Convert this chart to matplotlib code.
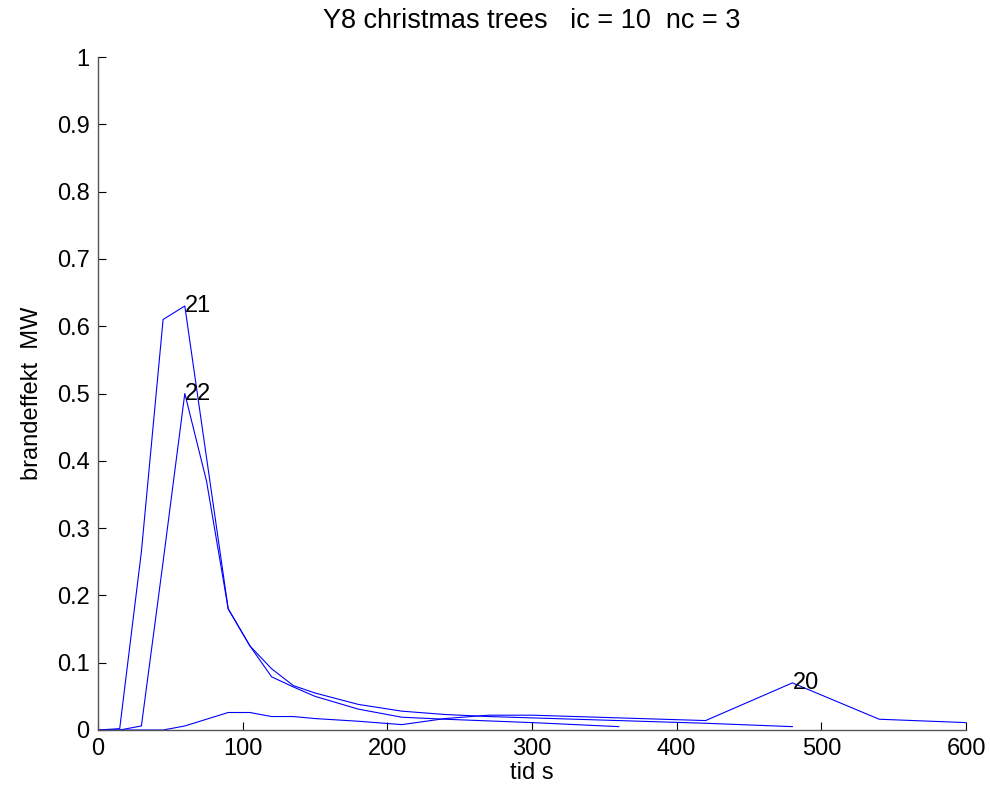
import matplotlib
matplotlib.use("Agg")
import matplotlib.pyplot as plt

# ---- data ----
t20 = [0, 15, 30, 45, 60, 75, 90, 105, 120, 135, 150, 180, 210, 240, 270, 300, 360, 420, 480, 540, 600]
y20 = [0, 0, 0, 0, 0.006, 0.016, 0.026, 0.026, 0.020, 0.020, 0.017, 0.013, 0.008, 0.017, 0.022, 0.022, 0.018, 0.014, 0.070, 0.016, 0.011]

t21 = [0, 15, 30, 45, 60, 75, 90, 105, 120, 135, 150, 180, 210, 240, 270, 300, 360, 420, 480]
y21 = [0, 0.002, 0.265, 0.61, 0.63, 0.405, 0.18, 0.125, 0.091, 0.066, 0.055, 0.038, 0.028, 0.023, 0.020, 0.018, 0.014, 0.010, 0.005]

t22 = [0, 15, 30, 45, 60, 75, 90, 105, 120, 135, 150, 180, 210, 240, 300, 360]
y22 = [0, 0, 0.006, 0.25, 0.50, 0.37, 0.18, 0.125, 0.079, 0.064, 0.050, 0.031, 0.019, 0.016, 0.011, 0.005]

series = [("20", t20, y20), ("21", t21, y21), ("22", t22, y22)]

title = "Y8 christmas trees   ic = 10  nc = 3"
xlabel = "tid s"
ylabel = "brandeffekt  MW"
xticks = [0, 100, 200, 300, 400, 500, 600]
yticks = [0, 0.1, 0.2, 0.3, 0.4, 0.5, 0.6, 0.7, 0.8, 0.9, 1]
ytick_labels = ["0", "0.1", "0.2", "0.3", "0.4", "0.5", "0.6", "0.7", "0.8", "0.9", "1"]

plt.rcParams['font.family'] = ['Liberation Sans', 'DejaVu Sans']

fig = plt.figure(figsize=(9.9, 7.96), dpi=100)
ax = fig.add_axes([98/990, 66/796, 868/990, 673/796])

for name, t, y in series:
    ax.plot(t, y, color="#0000ff", lw=0.8)
    i = max(range(len(y)), key=lambda k: y[k])
    ax.text(t[i], y[i], name, ha="left", va="center", fontsize=17)

ax.set_xlim(0, 600)
ax.set_ylim(0, 1)
ax.set_xticks(xticks)
ax.set_xticklabels([str(v) for v in xticks], fontsize=17)
ax.set_yticks(yticks)
ax.set_yticklabels(ytick_labels, fontsize=17)
ax.tick_params(direction="in", length=6, width=0.8, colors="black")
ax.tick_params(axis="x", pad=6)
ax.tick_params(axis="y", pad=6)
ax.spines["top"].set_visible(False)
ax.spines["right"].set_visible(False)
for s in ("left", "bottom"):
    ax.spines[s].set_color("#555555")
    ax.spines[s].set_linewidth(1.0)

ax.set_title(title, fontsize=19.5, pad=21)
ax.set_xlabel(xlabel, fontsize=17, labelpad=1)
ax.set_ylabel(ylabel, fontsize=17, labelpad=10)

fig.savefig("out.png", dpi=100)
